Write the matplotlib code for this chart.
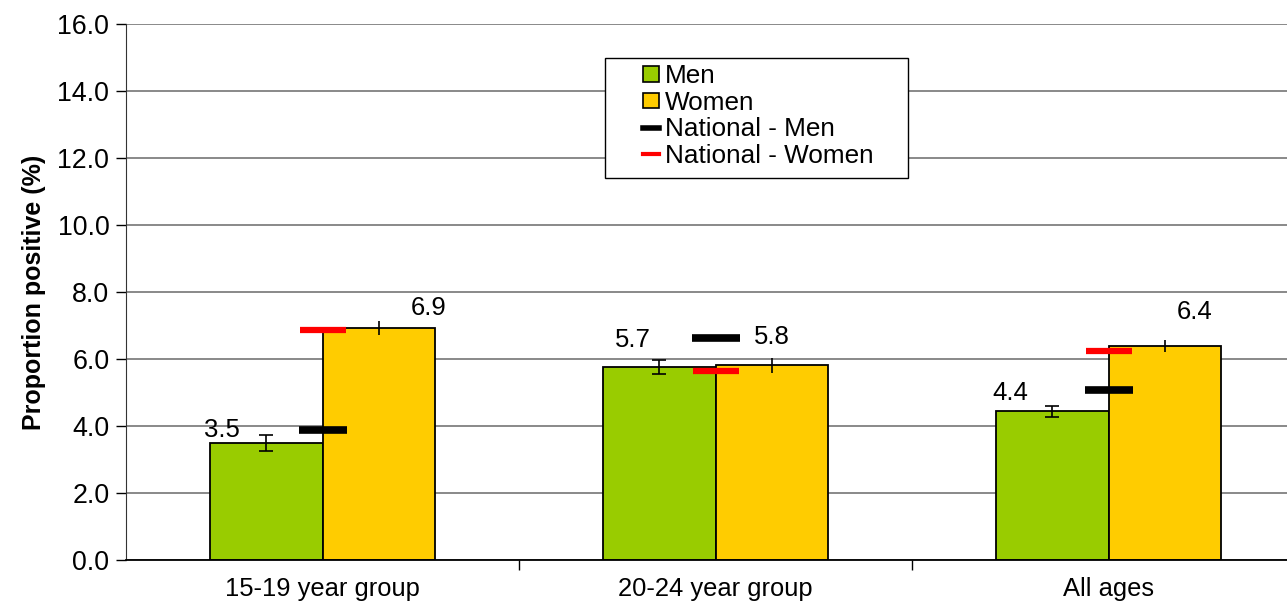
import matplotlib
matplotlib.use("Agg")
import matplotlib.pyplot as plt
from matplotlib.lines import Line2D
from matplotlib.patches import Patch, Rectangle
import numpy as np

plt.rcParams['font.family'] = ['Liberation Sans', 'DejaVu Sans']

#---------- data ----------
groups = ['15-19 year group', '20-24 year group', 'All ages']
men = [3.49, 5.76, 4.44]
women = [6.93, 5.81, 6.39]
men_err = [0.25, 0.22, 0.17]
women_err = [0.21, 0.23, 0.18]
men_labels = ['3.5', '5.7', '4.4']
women_labels = ['6.9', '5.8', '6.4']
national_men = [3.88, 6.62, 5.06]
national_women = [6.86, 5.65, 6.25]

# label offsets (pixels) from the top centre of each bar
men_offsets = [(-44, 13), (-26, 27), (-42, 18)]
women_offsets = [(50, 20), (0, 28), (30, 34)]

green = '#99CC00'
yellow = '#FFCC00'

W, H = 1287, 612
fig = plt.figure(figsize=(W / 100, H / 100), dpi=100)
ax = fig.add_axes([126 / W, 52 / H, 1179 / W, 536 / H])

x = np.arange(len(groups))
w = 0.2875

ax.bar(x - w / 2, men, w, color=green, edgecolor='black', linewidth=1.3, zorder=2)
ax.bar(x + w / 2, women, w, color=yellow, edgecolor='black', linewidth=1.3, zorder=2)

ax.errorbar(x - w / 2, men, yerr=men_err, fmt='none', ecolor='black',
            elinewidth=1.2, capsize=5, capthick=1.2, zorder=3)
ax.errorbar(x + w / 2, women, yerr=women_err, fmt='none', ecolor='black',
            elinewidth=1.2, capsize=0, zorder=3)

ax.plot(x, national_men, linestyle='none', marker='_', markersize=35,
        markeredgewidth=5.5, color='black', zorder=4)
ax.plot(x, national_women, linestyle='none', marker='_', markersize=33,
        markeredgewidth=4.5, color='#FF0000', zorder=4)

for i in range(len(groups)):
    ax.annotate(men_labels[i], (x[i] - w / 2, men[i]), xytext=men_offsets[i],
                textcoords='offset pixels', ha='center', va='center', fontsize=18.5)
    ax.annotate(women_labels[i], (x[i] + w / 2, women[i]), xytext=women_offsets[i],
                textcoords='offset pixels', ha='center', va='center', fontsize=18.5)

ax.set_xlim(-0.5, 2.5)
ax.set_ylim(0, 16)
ticks = np.arange(0, 16.1, 2)
ax.set_yticks(ticks)
ax.set_yticklabels(['%.1f' % v for v in ticks])
ax.yaxis.grid(True, color='#808080', linewidth=1.3, zorder=0)
ax.set_axisbelow(True)

ax.set_xticks(x)
ax.set_xticklabels(groups)
ax.set_xticks([0.5, 1.5], minor=True)
ax.tick_params(axis='x', which='major', length=0, pad=12, labelsize=18.4)
ax.tick_params(axis='x', which='minor', length=7, width=1, direction='out')
ax.tick_params(axis='y', length=7, width=1, direction='out', labelsize=19.3, pad=5)

for s in ['top', 'right']:
    ax.spines[s].set_visible(False)
ax.spines['left'].set_color('#333333')
ax.spines['bottom'].set_color('black')
ax.spines['bottom'].set_linewidth(1.3)

ax.set_ylabel('Proportion positive (%)', fontsize=18, fontweight='bold', labelpad=8)

# legend box drawn separately, entries placed inside it
box = Rectangle((605 / W, 1 - 178 / H), 303 / W, 120 / H, transform=fig.transFigure,
                facecolor='white', edgecolor='black', linewidth=1.0, zorder=5)
ax.add_patch(box)
box.set_clip_on(False)

handles = [
    Patch(facecolor=green, edgecolor='black', linewidth=1.2),
    Patch(facecolor=yellow, edgecolor='black', linewidth=1.2),
    Line2D([], [], color='black', linewidth=4),
    Line2D([], [], color='#FF0000', linewidth=3),
]
leg = ax.legend(handles, ['Men', 'Women', 'National - Men', 'National - Women'],
                loc='upper left', bbox_to_anchor=(643 / W, 1 - 64 / H),
                bbox_transform=fig.transFigure, borderaxespad=0, borderpad=0,
                fontsize=18.8, frameon=False,
                handlelength=0.6, handleheight=0.55, handletextpad=0.25,
                labelspacing=0.1)
leg.set_zorder(6)

fig.savefig('out.png', dpi=100)
